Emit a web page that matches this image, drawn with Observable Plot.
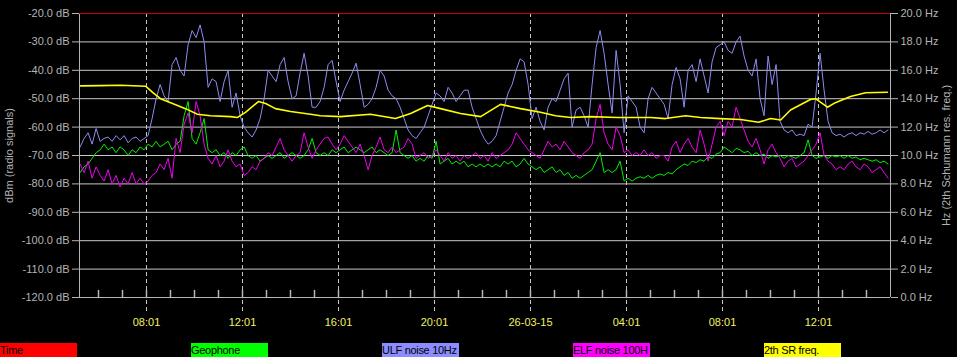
<!DOCTYPE html>
<html>
<head>
<meta charset="utf-8">
<script src="https://cdn.jsdelivr.net/npm/d3@7"></script>
<script src="https://cdn.jsdelivr.net/npm/@observablehq/plot@0.6"></script>
<style>
  html, body { margin: 0; padding: 0; background: #000; }
  #chart { width: 957px; height: 357px; position: relative; overflow: hidden; background: #000; }
  #legend { position: absolute; left: 0; top: 343px; width: 957px; height: 14px; }
  .item { position: absolute; top: 0; width: 77px; height: 14px; font: 11px "Liberation Sans", Arial, sans-serif; letter-spacing: -0.3px; color: #000; line-height: 15px; white-space: nowrap; overflow: visible; }
</style>
</head>
<body>
<div id="chart"><div id="legend"></div></div>
<script>
// ---- data ----
const startMinute = 315;   // 05:15 on 25-03-15
const stepMinutes = 10;

const geophone = [
 -76,-74,-73,-71,-69,-68,-66,-68,-67,-69,-67,-68,-70,-68,-69,-67,-68,-66,-67,-65,
 -67,-66,-65,-68,-66,-65,-56,-51,-64,-66,-62,-57,-68,-69,-68,-70,-69,-71,-69,-70,
 -68,-67,-70,-71,-70,-72,-71,-70,-71,-70,-69,-71,-70,-69,-70,-71,-70,-68,-64,-69,
 -70,-69,-70,-68,-69,-68,-67,-69,-68,-67,-68,-69,-68,-67,-69,-68,-69,-70,-69,-61,
 -69,-70,-71,-70,-72,-71,-72,-70,-71,-65,-73,-72,-71,-73,-72,-73,-72,-74,-73,-74,
 -73,-74,-73,-74,-73,-74,-72,-73,-72,-74,-73,-71,-73,-74,-75,-74,-76,-75,-74,-76,
 -75,-77,-76,-78,-77,-78,-77,-76,-75,-72,-69,-76,-75,-76,-75,-72,-79,-78,-79,-78,
 -77.5,-78,-77,-78,-77,-76.5,-77,-76,-76.5,-75,-74,-73,-73.5,-72,-72.5,-71.5,-72,-70.5,-71,-69.5,
 -69,-67,-68,-69,-67.5,-68,-69,-68.5,-70,-69,-70,-69.5,-71,-70,-70.5,-70,-71,-70,-70.5,-71,
 -70,-69,-64.5,-70,-71,-70.5,-70,-71,-70,-70.5,-70,-71,-70,-71,-70.5,-71.5,-71,-71.5,-72,-71.5,
 -72.5,-72,-73
];

const ulf = [
 -67,-64,-62,-66,-60.5,-65,-64,-63.5,-65,-63,-64.5,-63,-65.5,-64,-63.5,-65,-64,-63,-57,-50,
 -45,-49,-51,-38,-35.5,-40,-42,-31,-26,-28.5,-24,-30,-46,-43,-44,-51,-44,-40,-53,-48,
 -56,-60,-62,-63.5,-61,-57,-50,-40,-42,-44,-38,-35.5,-44,-50,-49,-41,-34,-42,-53,-53,
 -51,-46,-38,-36.5,-44,-51,-47,-44,-41,-37.5,-45,-53,-52,-50,-46,-40,-42,-47,-49,-50,
 -53,-57,-61,-63,-64,-62,-60,-56,-52,-48,-49,-51,-46,-48,-51,-49,-47,-47,-53,-57,
 -61,-64,-66,-65,-63,-58,-53,-48,-45,-40,-36,-37,-45,-57,-53,-58,-61,-53,-50,-51,
 -47,-43,-41,-60,-54,-53,-56,-60,-45,-32,-26,-34,-45,-55,-33,-45,-62,-49,-51,-53,
 -60,-62,-50,-46,-48,-50,-52,-57,-45,-39,-43,-53,-40,-38,-44,-36,-42,-48,-37,-32,
 -31,-30,-33,-34,-30,-28,-35,-40,-42,-36,-50,-56,-35,-45,-38,-58,-61,-62,-61,-63,
 -62.5,-63,-59,-60,-48,-34,-47,-58,-62,-63,-62.5,-63.5,-62.5,-62,-63,-62,-62.5,-61.5,-62.5,-62,
 -61,-62,-61
];

const elf = [
 -73,-76,-72,-78,-74,-77,-79,-75,-80,-77,-81,-78,-80,-76,-80,-78,-80,-79,-77,-76,
 -73,-75,-71,-78,-64,-69,-59,-55,-62,-51,-56,-66,-71,-73,-70,-74,-72,-68,-72,-74,
 -73,-77,-76,-74,-75,-72,-71,-69,-70,-67,-64,-68,-70,-72,-70,-69,-62,-67,-71,-68,
 -66,-64,-63.5,-66,-68,-66,-63,-65,-67,-69,-66,-70,-75,-70,-67,-63.5,-68,-69,-67,-69,
 -68,-67,-64,-66,-71,-70,-69,-71,-70,-68,-70,-72,-69,-71,-70,-72,-70,-71,-70,-69,
 -71,-70,-72,-69,-71,-70,-69,-68,-66,-62,-64,-66,-68,-69,-70,-71,-68,-65,-67,-66,
 -68,-65,-67,-69,-70,-71,-69,-68,-66,-57,-52,-62,-66,-68,-60,-63,-69,-68,-70,-69,
 -70,-68,-70,-69,-71,-70,-70,-72,-67,-65,-69,-66,-64,-67,-69,-61,-66,-72,-66,-60,
 -58,-63,-58,-60,-53,-57,-61,-65,-67,-64,-68,-73,-68,-66,-69,-71,-74,-72,-71,-74,
 -73,-72,-70,-68,-66,-62,-70,-72,-73,-75,-74,-75,-73,-72,-74,-75,-73,-74,-76,-75,
 -74,-76,-78
];

// 2th Schumann resonance frequency (Hz), time in hours from 00:00 on 25-03-15
const srHours = [5.27,6.1,6.93,7.98,8.27,8.6,9.1,9.64,10.14,10.68,11.52,11.81,12.14,12.68,12.98,13.39,14.02,14.85,15.27,16.1,
 17.35,18.39,19.02,19.73,20.27,21.1,21.94,22.77,23.6,24.43,25.06,25.69,26.52,27.64,29.02,29.64,30.48,31.1,31.93,32.77,
 33.52,34.02,34.44,34.85,35.68,35.89,36.39,36.72,37.35,37.98,38.89];
const srHz = [14.9,14.92,14.95,14.88,14.44,14.0,13.66,13.3,12.9,12.8,12.74,12.68,13.04,13.8,13.66,13.3,13.1,12.9,12.8,12.74,
 12.9,12.6,12.96,13.52,13.3,12.96,12.74,13.6,13.3,13.04,12.8,12.68,12.74,12.68,12.68,12.6,12.8,12.68,12.6,12.54,
 12.34,12.6,12.5,13.2,13.94,14.0,13.4,13.72,14.15,14.42,14.45];

const dbTicks = [-20,-30,-40,-50,-60,-70,-80,-90,-100,-110,-120];
const gridDb = [-30,-40,-50,-60,-70,-80,-90,-100,-110];
const hzTicks = [0,2,4,6,8,10,12,14,16,18,20];
const labelHours = [8+1/60,12+1/60,16+1/60,20+1/60,24+1/60,28+1/60,32+1/60,36+1/60];
const labelTexts = ["08:01","12:01","16:01","20:01","26-03-15","04:01","08:01","12:01"];
const hourTicks = d3.range(6, 39).map(h => h + 1/60);
const xDomain = [5.225, 39.017];
const yDomain = [-120, -20];

const legendNames = ["Time","Geophone","ULF noise 10Hz","ELF noise 100H","2th SR freq."];
const legendColors = ["#ff0000","#00ff00","#8c8cff","#ff00ff","#ffff00"];

// ---- tables ----
const hourOf = i => (startMinute + i * stepMinutes) / 60;
const geoData = geophone.map((v, i) => ({t: hourOf(i), v}));
const ulfData = ulf.map((v, i) => ({t: hourOf(i), v}));
const elfData = elf.map((v, i) => ({t: hourOf(i), v}));
const hzToDb = hz => hz * 5 - 120;
const dbToHz = db => (db + 120) / 5;
const srData = srHz.map((hz, i) => ({t: srHours[i], v: hzToDb(hz)})); // Hz -> left-scale units

const gray = "#b4b4b4";
const tickShape = {draw(ctx, l) { ctx.moveTo(0, 0); ctx.lineTo(0, -l); }};

const plot = Plot.plot({
  width: 957,
  height: 343,
  marginLeft: 79,
  marginRight: 67,
  marginTop: 13,
  marginBottom: 46,
  style: {background: "#000", fontFamily: "'Liberation Sans', Arial, sans-serif", fontSize: "11px", color: gray},
  x: {domain: xDomain},
  y: {domain: yDomain},
  marks: [
    Plot.ruleY(gridDb, {stroke: "#c8c8c8", strokeWidth: 1}),
    Plot.ruleX(labelHours, {stroke: "#c8c8c8", strokeDasharray: "4,3", insetBottom: -16}),
    Plot.ruleY([-120], {stroke: gray}),
    Plot.ruleX(xDomain, {stroke: gray}),
    Plot.ruleY([-20], {stroke: "#c80000"}),
    Plot.vector(hourTicks, {x: d => d, y: yDomain[0], length: 7, rotate: 0, anchor: "start", shape: tickShape, stroke: gray}),
    Plot.line(geoData, {x: "t", y: "v", stroke: "#00f000", strokeWidth: 1, curve: "linear"}),
    Plot.line(ulfData, {x: "t", y: "v", stroke: "#8c8cf0", strokeWidth: 1, curve: "linear"}),
    Plot.line(elfData, {x: "t", y: "v", stroke: "#f000f0", strokeWidth: 1, curve: "linear"}),
    Plot.line(srData, {x: "t", y: "v", stroke: "#ffff00", strokeWidth: 1.6, curve: "linear"}),
    Plot.axisY(dbTicks, {anchor: "left", tickSize: 7, tickPadding: 3, tickFormat: d => d.toFixed(1) + " dB", color: gray,
      label: "dBm (radio signals)", labelAnchor: "center", labelOffset: 74, labelArrow: "none"}),
    Plot.axisY(hzTicks.map(hzToDb), {anchor: "right", tickSize: 7, tickPadding: 3, tickFormat: d => dbToHz(d).toFixed(1) + " Hz", color: gray,
      label: "Hz (2th Schumann res. freq.)", labelAnchor: "center", labelOffset: 59, labelArrow: "none"}),
    Plot.axisX(labelHours, {anchor: "bottom", tickSize: 0, tickPadding: 21, tickFormat: (d, i) => labelTexts[i], fill: "#f0f064", label: null})
  ]
});
document.getElementById("chart").prepend(plot);

const legend = document.getElementById("legend");
legendNames.forEach((name, i) => {
  const el = document.createElement("div");
  el.className = "item";
  el.style.left = (i * 191) + "px";
  el.style.background = legendColors[i];
  el.textContent = name;
  legend.appendChild(el);
});
</script>
</body>
</html>
